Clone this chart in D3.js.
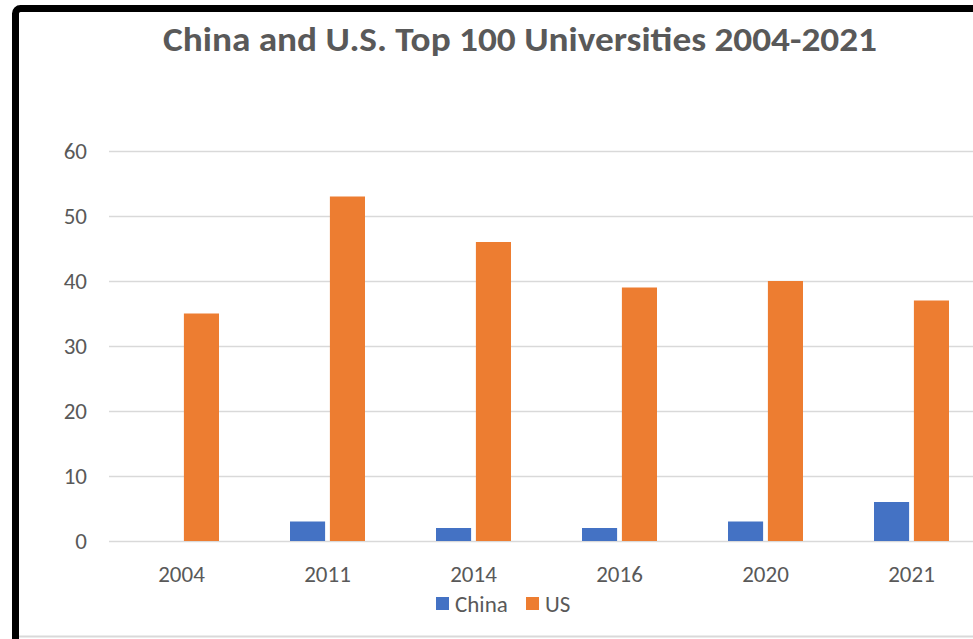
<!DOCTYPE html>
<html>
<head>
<meta charset="utf-8">
<script src="https://cdn.jsdelivr.net/npm/d3@7"></script>
<style>
  body { margin: 0; background: #fff; overflow: hidden; }
  text { font-family: Carlito, 'Open Sans', 'Noto Sans', sans-serif; }
</style>
</head>
<body>
<div class="chart"></div>
<script>
const years = ['2004', '2011', '2014', '2016', '2020', '2021'];
const china = [0, 3, 2, 2, 3, 6];
const us = [35, 53, 46, 39, 40, 37];
const yTicks = [0, 10, 20, 30, 40, 50, 60];
const seriesNames = ['China', 'US'];

const width = 973;
const height = 639;
const color = d3.scaleOrdinal().domain(seriesNames).range(['#4472c4', '#ed7d31']);

const svg = d3
  .select('.chart')
  .append('svg')
  .attr('width', width)
  .attr('height', height);

svg.append('rect').attr('width', width).attr('height', height).attr('fill', '#fff');

// light page lines and black frame
svg.append('line')
  .attr('x1', 19).attr('x2', width).attr('y1', 636.5).attr('y2', 636.5)
  .attr('stroke', '#d9d9d9').attr('stroke-width', 2);
svg.append('rect')
  .attr('x', 15.5).attr('y', 8.5)
  .attr('width', 1100).attr('height', 800)
  .attr('rx', 5)
  .attr('fill', 'none')
  .attr('stroke', '#000')
  .attr('stroke-width', 7);

const x = d3.scaleBand().domain(years).range([108.5, 984.5]).paddingInner(0).paddingOuter(0);
const y = d3.scaleLinear().domain([0, 60]).range([541, 151]);
const xs = d3.scaleBand().domain(seriesNames).range([35.5, 146 - 35.5]).paddingInner(9 / 75);

// gridlines
svg.append('g')
  .selectAll('line')
  .data(yTicks)
  .enter()
  .append('line')
  .attr('x1', 109)
  .attr('x2', width)
  .attr('y1', d => Math.round(y(d)) + 0.5)
  .attr('y2', d => Math.round(y(d)) + 0.5)
  .attr('stroke', '#d9d9d9')
  .attr('stroke-width', 1.3);

// y labels
svg.append('g')
  .selectAll('text')
  .data(yTicks)
  .enter()
  .append('text')
  .attr('x', 87)
  .attr('y', d => y(d) + 8)
  .attr('text-anchor', 'end')
  .attr('font-size', 23)
  .attr('fill', '#595959')
  .text(d => d);

// bars
const rows = years.map((yr, i) => ({ year: yr, China: china[i], US: us[i] }));
const groups = svg
  .selectAll('.grp')
  .data(rows)
  .enter()
  .append('g')
  .attr('class', 'grp')
  .attr('transform', d => 'translate(' + x(d.year) + ',0)');

groups
  .selectAll('rect')
  .data(d => seriesNames.map(k => ({ key: k, value: d[k] })))
  .enter()
  .append('rect')
  .attr('x', d => xs(d.key))
  .attr('width', xs.bandwidth())
  .attr('y', d => y(d.value))
  .attr('height', d => y(0) - y(d.value))
  .attr('fill', d => color(d.key));

// x labels
svg.append('g')
  .selectAll('text')
  .data(years)
  .enter()
  .append('text')
  .attr('x', d => x(d) + x.bandwidth() / 2)
  .attr('y', 582)
  .attr('text-anchor', 'middle')
  .attr('font-size', 23)
  .attr('fill', '#595959')
  .text(d => d);

// title
svg.append('text')
  .attr('x', 520)
  .attr('y', 51)
  .attr('text-anchor', 'middle')
  .attr('font-size', 35)
  .attr('font-weight', 'bold')
  .attr('fill', '#595959')
  .attr('textLength', 714)
  .attr('lengthAdjust', 'spacingAndGlyphs')
  .text('China and U.S. Top 100 Universities 2004-2021');

// legend
const legendX = [436, 526];
const legend = svg
  .selectAll('.legend')
  .data(seriesNames)
  .enter()
  .append('g')
  .attr('class', 'legend')
  .attr('transform', (d, i) => 'translate(' + legendX[i] + ',597)');
legend.append('rect').attr('width', 13).attr('height', 13).attr('fill', d => color(d));
legend.append('text')
  .attr('x', 19)
  .attr('y', 15)
  .attr('font-size', 23)
  .attr('fill', '#595959')
  .text(d => d);
</script>
</body>
</html>
